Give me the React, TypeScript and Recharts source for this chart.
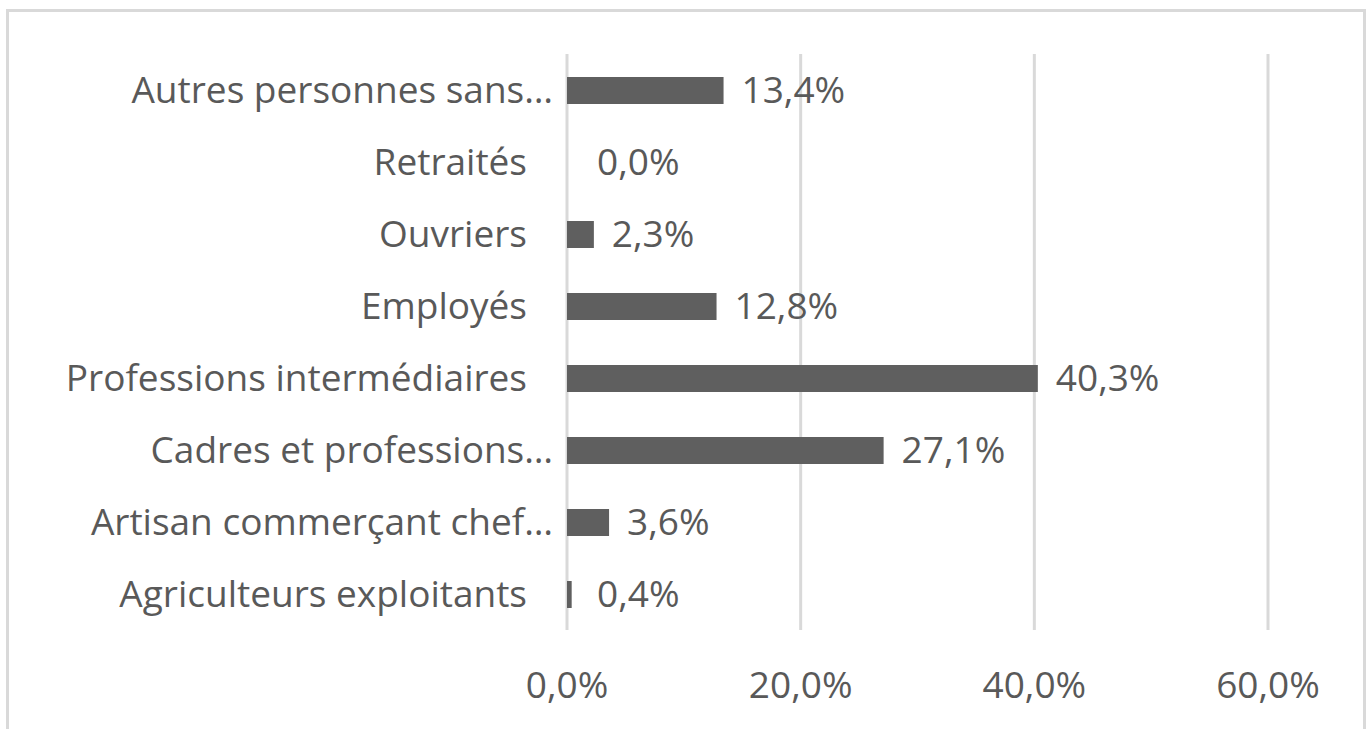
import { BarChart, Bar, XAxis, YAxis, CartesianGrid, LabelList } from "recharts";

const categories = [
  "Autres personnes sans…",
  "Retraités",
  "Ouvriers",
  "Employés",
  "Professions intermédiaires",
  "Cadres et professions…",
  "Artisan commerçant chef…",
  "Agriculteurs exploitants",
];
const shares = [13.4, 0.0, 2.3, 12.8, 40.3, 27.1, 3.6, 0.4];
const xTicks = [0, 20, 40, 60];

const data = categories.map((name, i) => ({ name, value: shares[i] }));

const fmt = (v: number) => v.toFixed(1).replace(".", ",") + "%";
const FONT = "'Open Sans', sans-serif";
const TEXT = "#595959";
const SIZE = 37;

function ValueLabel(props: any) {
  const { x, y, width, height, value } = props;
  const tx = Number(x) + Math.max(Number(width), 12) + 18;
  return (
    <text x={tx} y={Number(y) + Number(height) / 2} dy="0.35em" fill={TEXT} fontSize={SIZE} fontFamily={FONT}>
      {fmt(Number(value))}
    </text>
  );
}

// truncated labels sit a little further right, as in the original
function CategoryTick(props: any) {
  const { x, y, payload } = props;
  const label = String(payload.value);
  const shift = label.endsWith("…") ? 26 : 0;
  return (
    <text x={Number(x) + shift} y={y} dy="0.35em" textAnchor="end" fill={TEXT} fontSize={SIZE} fontFamily={FONT}>
      {label}
    </text>
  );
}

export default function App() {
  return (
    <div style={{ position: "absolute", left: 0, top: 0, width: 1368, height: 729, background: "#fff", overflow: "hidden" }}>
      <div
        style={{
          position: "absolute",
          left: 6,
          top: 9,
          width: 1360,
          height: 730,
          boxSizing: "border-box",
          border: "3px solid #d9d9d9",
          borderBottom: "none",
        }}
      />
      <div style={{ position: "absolute", left: 0, top: 0 }}>
        <BarChart
          width={1368}
          height={729}
          data={data}
          layout="vertical"
          margin={{ top: 54, right: 100, bottom: 0, left: 0 }}
          barSize={27}
        >
          <CartesianGrid horizontal={false} stroke="#d9d9d9" strokeWidth={3} />
          <XAxis
            type="number"
            domain={[0, 60]}
            ticks={xTicks}
            tickFormatter={fmt}
            height={99}
            axisLine={false}
            tickLine={false}
            tickSize={0}
            tickMargin={42}
            tick={{ fontSize: SIZE, fill: TEXT, fontFamily: FONT }}
          />
          <YAxis
            type="category"
            dataKey="name"
            width={567}
            axisLine={false}
            tickLine={false}
            tickSize={0}
            tickMargin={40}
            interval={0}
            tick={CategoryTick}
          />
          <Bar dataKey="value" fill="#5f5f5f" minPointSize={0.01} isAnimationActive={false}>
            <LabelList dataKey="value" content={ValueLabel} />
          </Bar>
        </BarChart>
      </div>
    </div>
  );
}
